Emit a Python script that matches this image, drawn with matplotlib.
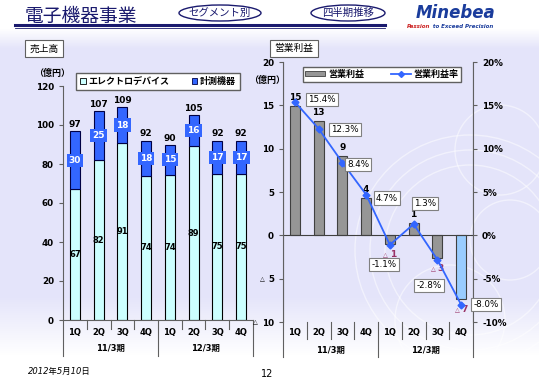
# 電子機器事業 四半期推移 chart

import numpy as np
import matplotlib.pyplot as plt
from matplotlib.patches import Ellipse, Rectangle, Circle
from matplotlib.lines import Line2D

plt.rcParams['font.family'] = ['DejaVu Sans', 'Noto Sans CJK JP']

# data
quarters = ['1Q', '2Q', '3Q', '4Q', '1Q', '2Q', '3Q', '4Q']
periods = ['11/3期', '12/3期']
electro = [67, 82, 91, 74, 74.4, 89, 75, 75]      # エレクトロデバイス
measure = [30, 25, 18, 18, 15.4, 16, 17, 17]      # 計測機器
profit = [14.9, 13.2, 9.1, 4.3, -1.0, 1.4, -2.6, -7.4]   # 営業利益
margin = [15.4, 12.3, 8.4, 4.7, -1.1, 1.3, -2.8, -8.0]   # 営業利益率
# label offsets for the margin boxes (category, %)
margin_off = [(1.14, 0.3), (1.11, -0.1), (0.66, -0.2), (0.88, -0.4),
              (-0.25, -2.25), (0.48, 2.4), (-0.35, -3.0), (1.05, 0.0)]

W, H = 539, 380
fig = plt.figure(figsize=(W / 100, H / 100), dpi=100)

navy = '#1a1a6e'
blue = '#3366ff'
neg_col = '#993366'
jp = 'Noto Sans CJK JP'

# background gradient
bg = fig.add_axes([0, 0, 1, 1], zorder=-5)
rows = np.arange(H)
lav = np.array([228, 228, 250]) / 255.
t = np.clip((rows - 28) / 20., 0, 1) * np.clip((355 - rows) / 60., 0, 1)
grad = (1 - t[:, None]) * 1.0 + t[:, None] * lav[None, :]
bg.imshow(grad[:, None, :], aspect='auto', extent=[0, W, H, 0])
bg.set_xlim(0, W)
bg.set_ylim(H, 0)
bg.axis('off')

# faint rings on the right
for cx, cy, r in [(470, 250, 115), (470, 250, 100), (470, 250, 85),
                  (500, 150, 45), (510, 240, 40), (450, 320, 55)]:
    bg.add_patch(Circle((cx, cy), r, fill=False, ec='white', lw=1.0, alpha=0.5))

# header
bg.text(25, 16, '電子機器事業', fontsize=13.5, color=navy, va='center', family=jp)
bg.plot([15, 385], [24.5, 24.5], color=navy, lw=2.2)
bg.plot([15, 385], [27.5, 27.5], color=navy, lw=0.6)
bg.add_patch(Ellipse((220, 13), 82, 16, fill=False, ec=navy, lw=1.0))
bg.text(220, 13, 'セグメント別', fontsize=7.5, color=navy, ha='center', va='center',
        family=jp)
bg.add_patch(Ellipse((348, 13), 74, 16, fill=False, ec=navy, lw=1.0))
bg.text(348, 13, '四半期推移', fontsize=7.5, color=navy, ha='center', va='center',
        family=jp)
bg.text(456, 13, 'Minebea', fontsize=12, fontweight='bold', style='italic',
        color='#1a3c9c', ha='center', va='center')
bg.text(430, 26, 'Passion', fontsize=4, fontweight='bold', style='italic',
        color='#cc2222', ha='right', va='center')
bg.text(431, 26, ' to Exceed Precision', fontsize=4, fontweight='bold', style='italic',
        color='#1a3c9c', ha='left', va='center')

for x0, x1, txt in [(25, 63, '売上高'), (270, 318, '営業利益')]:
    bg.add_patch(Rectangle((x0, 40), x1 - x0, 17, fc='white', ec='#606060', lw=0.8))
    bg.text((x0 + x1) / 2, 48.5, txt, fontsize=7, ha='center', va='center', family=jp)

bg.text(52, 73, '（億円）', fontsize=6.5, fontweight='bold', ha='center', va='center',
        family=jp)
bg.text(267, 80, '（億円）', fontsize=6.5, fontweight='bold', ha='center', va='center',
        family=jp)
bg.text(28, 371, '2012年5月10日', fontsize=6, style='italic', va='center')
bg.text(267, 374, '12', fontsize=7, ha='center', va='center')

x = np.arange(len(quarters))


def category_axis(ax, h_px, sep_px, grp_px, lab_px, glab_px):
    tr = ax.get_xaxis_transform()
    for b in [0.5, 1.5, 2.5, 4.5, 5.5, 6.5]:
        ax.plot([b, b], [0, -sep_px / h_px], color='#606060', lw=0.8,
                transform=tr, clip_on=False)
    for b in [-0.5, 3.5, 7.5]:
        ax.plot([b, b], [0, -grp_px / h_px], color='#606060', lw=0.8,
                transform=tr, clip_on=False)
    for i, q in enumerate(quarters):
        ax.text(i, -lab_px / h_px, q, transform=tr, ha='center', va='center',
                fontsize=6, fontweight='bold')
    for g, p in enumerate(periods):
        ax.text(1.5 + 4 * g, -glab_px / h_px, p, transform=tr, ha='center',
                va='center', fontsize=6, fontweight='bold')
    ax.set_xticks([])
    ax.set_xlim(-0.5, 7.5)


# left chart: sales
h1 = 320 - 86
ax1 = fig.add_axes([63 / W, 1 - 320 / H, (253 - 63) / W, h1 / H])
ax1.patch.set_alpha(0)
bw = 0.42
ax1.bar(x, electro, bw, color='#ccffff', edgecolor='black', lw=0.8)
ax1.bar(x, measure, bw, bottom=electro, color=blue, edgecolor='#000044', lw=0.8)
for i in range(len(x)):
    e, m = electro[i], measure[i]
    ax1.text(i, e / 2, f'{e:.0f}', ha='center', va='center', fontsize=6,
             fontweight='bold')
    ax1.text(i, e + m / 2, f'{m:.0f}', ha='center', va='center', fontsize=6.5,
             fontweight='bold', color='white',
             bbox=dict(fc=blue, ec='none', pad=1.5))
    ax1.text(i, e + m + 1.2, f'{e + m:.0f}', ha='center', va='bottom',
             fontsize=6.5, fontweight='bold')
ax1.set_ylim(0, 120)
ax1.set_yticks(range(0, 121, 20))
ax1.tick_params(axis='y', labelsize=6.3, length=3, color='#606060')
for lab in ax1.get_yticklabels():
    lab.set_fontweight('bold')
for s in ['top', 'right']:
    ax1.spines[s].set_visible(False)
ax1.spines['left'].set_color('#606060')
ax1.spines['bottom'].set_color('#606060')
category_axis(ax1, h1, 9, 36, 12, 28)

leg_h = [Rectangle((0, 0), 1, 1, fc='#ccffff', ec='black', lw=0.6),
         Rectangle((0, 0), 1, 1, fc=blue, ec='#000044', lw=0.6)]
fig.legend(leg_h, ['エレクトロデバイス', '計測機器'], loc='center',
           bbox_to_anchor=(158 / W, 1 - 81.5 / H), ncol=2,
           prop=dict(weight='bold', size=6.5, family=jp), frameon=True,
           fancybox=False, edgecolor='#606060', framealpha=1, handlelength=0.6,
           handleheight=0.6, handletextpad=0.3, columnspacing=2.5, borderpad=0.4)

# right chart: operating profit
h2 = 322 - 62
ax2 = fig.add_axes([283 / W, 1 - 322 / H, (473 - 283) / W, h2 / H])
ax2.patch.set_alpha(0)
bar_cols = ['#969696'] * 7 + ['#99ccff']
ax2.bar(x, profit, bw, color=bar_cols, edgecolor='#404040', lw=0.8)
ax2.axhline(0, color='#404040', lw=0.8)
for i, p in enumerate(profit):
    if p >= 0:
        ax2.text(i, p + 0.5, f'{round(p)}', ha='center', va='bottom',
                 fontsize=6.5, fontweight='bold')
    else:
        ax2.annotate(f'{round(-p)}', (i, p - 1.2), xytext=(2.5, 0),
                     textcoords='offset points', ha='center', va='center',
                     fontsize=6.5, fontweight='bold', color=neg_col)
        ax2.annotate('△', (i, p - 1.2), xytext=(-3, 0),
                     textcoords='offset points', ha='center', va='center',
                     fontsize=4.5, color=neg_col)
ax2.set_ylim(-10, 20)
ax2.set_yticks([20, 15, 10, 5, 0, -5, -10])
ax2.set_yticklabels(['20', '15', '10', '5', '0', '5', '10'])
ax2.tick_params(axis='y', labelsize=6.3, length=3, color='#606060')
for lab in ax2.get_yticklabels():
    lab.set_fontweight('bold')
for v, off in [(-5, -15), (-10, -20)]:
    ax2.annotate('△', (0, v), xycoords=('axes fraction', 'data'), xytext=(off, 0),
                 textcoords='offset points', ha='center', va='center',
                 fontsize=4.5)
for s in ['top', 'bottom', 'right']:
    ax2.spines[s].set_visible(False)
ax2.spines['left'].set_color('#606060')
category_axis(ax2, h2, 17, 35, 11, 28)
tr2 = ax2.get_xaxis_transform()
ax2.plot([-0.5, -0.5], [0, 1], color='#606060', lw=0.8, transform=tr2)
ax2.plot([7.5, 7.5], [0, 1], color='#606060', lw=0.8, transform=tr2)

ax3 = ax2.twinx()
ax3.set_ylim(-10, 20)
ax3.plot(x, margin, color=blue, lw=1.3, marker='D', markersize=3.5)
for i, mg in enumerate(margin):
    dx, dy = margin_off[i]
    ax3.text(i + dx, mg + dy, f'{mg:.1f}%', ha='center', va='center',
             fontsize=6.3, bbox=dict(fc='white', ec='#808080', lw=0.8, pad=1.5))
ax3.set_yticks([20, 15, 10, 5, 0, -5, -10])
ax3.set_yticklabels(['20%', '15%', '10%', '5%', '0%', '-5%', '-10%'])
ax3.tick_params(axis='y', labelsize=6.3, length=3, color='#606060')
for lab in ax3.get_yticklabels():
    lab.set_fontweight('bold')
for s in ['top', 'bottom', 'left']:
    ax3.spines[s].set_visible(False)
ax3.spines['right'].set_color('#606060')

leg_h2 = [Rectangle((0, 0), 1, 1, fc='#969696', ec='#404040', lw=0.6),
          Line2D([0], [0], color=blue, lw=1.3, marker='D', markersize=3)]
fig.legend(leg_h2, ['営業利益', '営業利益率'], loc='center',
           bbox_to_anchor=(382 / W, 1 - 74.5 / H), ncol=2,
           prop=dict(weight='bold', size=6.5, family=jp), frameon=True,
           fancybox=False, edgecolor='#606060', framealpha=1, handlelength=2.2,
           handleheight=0.5, handletextpad=0.3, columnspacing=3.0, borderpad=0.3)

fig.savefig('out.png', dpi=100)
